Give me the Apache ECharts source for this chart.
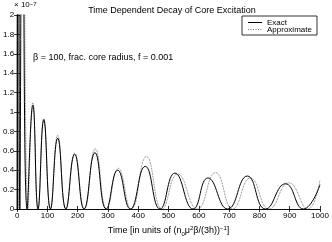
<!DOCTYPE html>
<html><head><meta charset="utf-8">
<script src="https://cdn.jsdelivr.net/npm/echarts@6/dist/echarts.min.js"></script>
<style>html,body{margin:0;padding:0;background:#fff}#c{width:332px;height:242px}</style>
</head><body><div id="c"></div>
<script>
// values in units of 1e-7
const exactTime = [0, 4, 9, 18, 33, 52, 69, 88, 110, 134, 161, 190, 221, 257, 294, 332, 374, 423, 472, 521, 581, 630, 695, 760, 820, 886, 945, 1000];
const exactValue = [0, 9, 0, 3.5, 0, 1.07, 0, 0.92, 0, 0.73, 0, 0.565, 0, 0.58, 0, 0.40, 0, 0.44, 0, 0.37, 0, 0.32, 0, 0.34, 0, 0.26, 0, 0.25];
const approxTime = [0, 2, 5, 18, 36, 52, 69, 88, 110, 134, 161, 190, 222, 258, 296, 334, 377, 427, 479, 530, 595, 655, 712, 770, 832, 897, 960, 1000];
const approxValue = [0, 8, 0, 5, 0, 1.1, 0, 0.93, 0, 0.76, 0, 0.575, 0, 0.62, 0, 0.42, 0, 0.54, 0, 0.36, 0, 0.375, 0, 0.32, 0, 0.27, 0, 0.30];
const xTicks = [0, 100, 200, 300, 400, 500, 600, 700, 800, 900, 1000];
const yTicks = [0, 0.2, 0.4, 0.6, 0.8, 1, 1.2, 1.4, 1.6, 1.8, 2];
const seriesNames = ['Exact', 'Approximate'];

const F = '"Liberation Sans", Arial, Helvetica, sans-serif';
const chart = echarts.init(document.getElementById('c'), null, {renderer: 'canvas'});
const axisCommon = {
  type: 'value',
  axisLine: {show: true, lineStyle: {color: '#000', width: 0.8}},
  axisTick: {show: true, inside: true, length: 3, lineStyle: {color: '#000', width: 0.8}},
  splitLine: {show: false}
};
chart.setOption({
  animation: false,
  textStyle: {fontFamily: F},
  title: {
    text: 'Time Dependent Decay of Core Excitation',
    left: 167, textAlign: 'center', top: 1,
    textStyle: {fontSize: 9, fontWeight: 'normal', color: '#000', fontFamily: F}
  },
  grid: {left: 14, right: 12, top: 15, bottom: 25},
  xAxis: [
    Object.assign({}, axisCommon, {
      min: xTicks[0], max: xTicks[xTicks.length - 1], interval: 100,
      axisLabel: {fontSize: 8, color: '#000', margin: 3, fontFamily: F, formatter: v => String(v)},
      name: 'Time [in units of (n{sub|0}μ{sup|2}β/(3h)){sup|−1}]',
      nameLocation: 'middle', nameGap: 16,
      nameTextStyle: {fontSize: 9, color: '#000', fontFamily: F, lineHeight: 12,
        rich: {sub: {fontSize: 6, verticalAlign: 'bottom', lineHeight: 12, fontFamily: F},
               sup: {fontSize: 6, verticalAlign: 'top', lineHeight: 6, fontFamily: F}}}
    }),
    Object.assign({}, axisCommon, {
      position: 'top', min: 0, max: 1000, interval: 100, axisLabel: {show: false}
    })
  ],
  yAxis: [
    Object.assign({}, axisCommon, {
      min: yTicks[0], max: yTicks[yTicks.length - 1], interval: 0.2,
      axisLabel: {fontSize: 8, color: '#000', margin: 3, fontFamily: F}
    }),
    Object.assign({}, axisCommon, {
      position: 'right', min: 0, max: 2, interval: 0.2, axisLabel: {show: false}
    })
  ],
  graphic: [
    {type: 'text', left: 14, top: 1, style: {
      text: '× 10{s|−7}', fontSize: 8, fill: '#000', fontFamily: F,
      rich: {s: {fontSize: 6, verticalAlign: 'top', lineHeight: 6, fontFamily: F}}}},
    {type: 'text', left: 33, top: 53, style: {
      text: 'β = 100, frac. core radius, f = 0.001', fontSize: 9, fill: '#000', fontFamily: F}},
    {type: 'group', z: 100, children: [
      {type: 'rect', shape: {x: 242, y: 16, width: 75, height: 19},
       style: {fill: '#fff', stroke: '#000', lineWidth: 0.8}},
      {type: 'line', shape: {x1: 248, y1: 22.5, x2: 262, y2: 22.5},
       style: {stroke: '#000', lineWidth: 1}},
      {type: 'line', shape: {x1: 248, y1: 29.5, x2: 262, y2: 29.5},
       style: {stroke: '#555', lineWidth: 0.8, lineDash: [1, 1.5]}},
      {type: 'text', x: 267, y: 22.5, style: {text: seriesNames[0], fontSize: 8, fill: '#000',
       fontFamily: F, verticalAlign: 'middle'}},
      {type: 'text', x: 267, y: 29.5, style: {text: seriesNames[1], fontSize: 8, fill: '#000',
       fontFamily: F, verticalAlign: 'middle'}}
    ]}
  ],
  series: [
    {name: seriesNames[0], type: 'line', smooth: 0.5, symbol: 'none', clip: true,
     data: exactTime.map((t, i) => [t, exactValue[i]]),
     lineStyle: {color: '#000', width: 1}, itemStyle: {color: '#000'}, z: 3},
    {name: seriesNames[1], type: 'line', smooth: 0.5, symbol: 'none', clip: true,
     data: approxTime.map((t, i) => [t, approxValue[i]]),
     lineStyle: {color: '#555', width: 0.8, type: 'dotted'}, itemStyle: {color: '#555'}, z: 2}
  ]
});
</script></body></html>
